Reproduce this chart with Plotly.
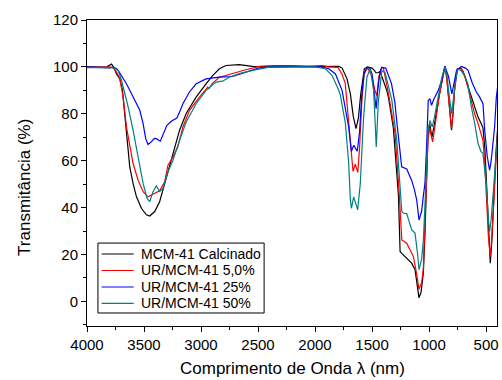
import plotly.graph_objects as go

# ---- data (wavenumber, transmittance %) ----
names = ["MCM-41 Calcinado", "UR/MCM-41 5,0%", "UR/MCM-41 25%", "UR/MCM-41 50%"]
colors = ["#000000", "#FF0000", "#0000FF", "#008080"]

w_black = [4000, 3900, 3830, 3785, 3765, 3741, 3712, 3689, 3668, 3648, 3625, 3596, 3566, 3523, 3479, 3450,
           3406, 3363, 3319, 3276, 3232, 3188, 3130, 3043, 2956, 2898, 2839, 2781, 2665, 2548, 2400, 2200,
           2000, 1880, 1790, 1763, 1750, 1720, 1690, 1665, 1641, 1620, 1600, 1580, 1568, 1540, 1500, 1480,
           1466, 1450, 1430, 1415, 1371, 1356, 1313, 1268, 1254, 1240, 1196, 1152, 1123, 1088, 1070, 1050,
           1035, 1021, 1010, 995, 975, 955, 934, 910, 890, 861, 845, 832, 815, 803, 790, 774, 751, 720, 701,
           660, 629, 600, 570, 540, 527, 510, 498, 480, 463, 450, 431, 415, 400]
t_black = [100.0, 100.1, 99.9, 101.2, 99.8, 97.0, 94.9, 90.0, 78.6, 67.3, 57.4, 50.3, 44.6, 39.7, 36.9, 36.4,
           38.3, 42.5, 50.3, 57.4, 65.9, 73.0, 80.1, 87.1, 92.8, 96.3, 99.2, 100.6, 101.0, 100.2, 100.0, 100.1,
           100.3, 100.1, 100.2, 99.5, 98.0, 95.0, 88.5, 79.0, 73.7, 78.0, 88.0, 96.0, 99.2, 100.0, 99.5, 98.5,
           97.5, 97.5, 98.0, 96.0, 90.0, 87.0, 74.0, 45.0, 21.3, 20.5, 18.5, 16.3, 13.5, 1.5, 4.0, 12.0,
           30.0, 55.0, 70.0, 76.0, 70.0, 75.0, 81.5, 88.0, 93.0, 100.2, 96.0, 89.0, 78.0, 73.0, 80.0, 92.0,
           99.2, 99.5, 98.0, 92.0, 87.0, 83.0, 78.6, 75.5, 74.0, 65.0, 53.0, 30.0, 16.3, 25.0, 46.0, 62.0, 73.0]

w_red = [4000, 3900, 3800, 3770, 3741, 3712, 3683, 3654, 3625, 3596, 3552, 3508, 3465, 3421, 3363, 3319,
         3290, 3246, 3203, 3159, 3101, 3014, 2956, 2941, 2930, 2900, 2839, 2723, 2607, 2490, 2374, 2200,
         2050, 1937, 1880, 1800, 1764, 1735, 1705, 1676, 1667, 1647, 1625, 1610, 1590, 1570, 1540, 1500,
         1475, 1458, 1440, 1415, 1400, 1356, 1298, 1263, 1245, 1239, 1196, 1137, 1110, 1088, 1065, 1050,
         1035, 1021, 1010, 995, 969, 950, 934, 910, 890, 861, 845, 832, 815, 803, 790, 774, 751, 720, 687,
         660, 629, 600, 570, 540, 527, 510, 498, 480, 463, 450, 431, 415, 400]
t_red = [99.8, 100.0, 100.0, 99.6, 97.8, 94.9, 87.1, 74.4, 65.9, 58.8, 51.7, 46.8, 44.6, 45.8, 47.2, 51.0,
         58.1, 61.6, 65.9, 74.4, 81.5, 87.1, 90.5, 91.4, 90.8, 93.0, 95.6, 97.3, 98.8, 100.2, 100.6, 100.5,
         100.3, 100.6, 100.0, 99.8, 97.0, 93.0, 77.2, 63.1, 55.5, 58.5, 55.0, 65.0, 85.0, 97.0, 99.6, 96.0,
         90.0, 87.8, 96.0, 99.8, 99.5, 88.6, 71.6, 47.0, 28.0, 26.2, 24.8, 19.1, 12.0, 5.2, 8.0, 14.0,
         35.0, 55.0, 68.0, 74.0, 68.0, 74.0, 80.0, 88.0, 93.0, 100.0, 95.0, 88.0, 78.0, 73.7, 80.0, 92.0,
         99.0, 99.2, 96.5, 91.0, 85.7, 80.0, 75.8, 70.0, 68.7, 58.0, 46.0, 28.0, 19.1, 27.0, 43.2, 60.0, 71.0]

w_blue = [4000, 3900, 3800, 3770, 3740, 3727, 3700, 3654, 3625, 3596, 3566, 3537, 3508, 3485, 3465, 3436,
          3410, 3392, 3357, 3328, 3299, 3261, 3212, 3188, 3159, 3101, 3043, 2956, 2839, 2723, 2607, 2490,
          2316, 2100, 1950, 1879, 1821, 1763, 1735, 1705, 1681, 1660, 1630, 1610, 1590, 1570, 1545, 1520,
          1500, 1480, 1464, 1450, 1430, 1415, 1380, 1330, 1300, 1284, 1260, 1240, 1196, 1153, 1130, 1108,
          1088, 1065, 1050, 1036, 1020, 1012, 1007, 992, 978, 960, 919, 890, 861, 830, 817, 800, 785, 770,
          759, 716, 680, 658, 620, 585, 556, 527, 512, 490, 469, 455, 439, 425, 410, 400]
t_blue = [100.0, 99.8, 99.6, 99.9, 99.2, 98.5, 96.5, 92.8, 90.0, 87.1, 84.3, 81.5, 75.8, 69.4, 66.9, 68.0,
          69.5, 69.4, 68.3, 71.6, 75.1, 76.8, 78.2, 80.8, 84.3, 89.3, 92.8, 94.9, 95.6, 95.9, 97.8, 99.6,
          100.2, 100.0, 100.0, 99.2, 97.0, 90.0, 83.0, 74.4, 64.0, 66.6, 64.0, 72.0, 88.0, 97.0, 99.8, 99.5,
          97.0, 90.0, 82.2, 90.0, 98.0, 99.8, 99.5, 93.0, 85.0, 77.2, 65.0, 57.4, 56.5, 51.7, 48.0, 43.2,
          34.7, 38.5, 45.0, 50.3, 68.0, 78.6, 85.7, 86.4, 83.6, 86.0, 90.0, 94.2, 100.3, 96.0, 93.0, 88.5, 92.0, 97.0,
          98.5, 100.2, 99.5, 98.5, 93.0, 89.3, 87.1, 84.3, 73.0, 62.0, 56.0, 60.0, 67.3, 74.4, 87.0, 91.0]

w_teal = [4000, 3900, 3800, 3760, 3727, 3697, 3668, 3639, 3596, 3552, 3508, 3473, 3450, 3421, 3392, 3363,
          3334, 3290, 3246, 3188, 3130, 3043, 2956, 2868, 2811, 2752, 2665, 2548, 2403, 2200, 2000, 1908,
          1850, 1792, 1778, 1734, 1705, 1690, 1681, 1661, 1626, 1603, 1574, 1545, 1516, 1486, 1463, 1445,
          1414, 1385, 1326, 1283, 1254, 1239, 1225, 1196, 1152, 1123, 1100, 1088, 1065, 1050, 1035, 1021,
          1010, 992, 972, 955, 934, 910, 890, 861, 845, 832, 815, 803, 790, 774, 751, 720, 687, 660, 629,
          600, 570, 545, 527, 510, 498, 480, 469, 455, 431, 415, 400]
t_teal = [99.7, 99.9, 99.8, 99.5, 98.5, 94.2, 88.6, 82.9, 73.0, 61.6, 50.3, 43.9, 42.5, 46.8, 49.2, 46.8,
          48.2, 55.3, 60.2, 68.7, 76.5, 84.3, 90.0, 93.5, 93.9, 95.6, 97.1, 98.5, 99.9, 100.0, 100.0, 99.2,
          96.3, 90.0, 88.0, 76.0, 59.0, 43.0, 39.7, 44.6, 39.0, 50.3, 78.6, 95.6, 99.2, 90.0, 65.9, 85.0,
          98.5, 97.5, 85.7, 68.7, 47.5, 38.3, 37.6, 37.5, 30.5, 29.1, 20.0, 13.5, 18.0, 26.0, 42.0, 60.0,
          72.0, 77.2, 74.4, 78.0, 84.0, 90.0, 95.0, 100.0, 97.0, 91.4, 84.0, 80.0, 85.0, 91.4, 99.0, 98.5,
          96.0, 93.0, 82.9, 76.0, 67.3, 64.0, 63.1, 55.0, 50.0, 35.0, 29.8, 35.0, 49.0, 62.0, 70.0]

series_w = [w_black, w_red, w_blue, w_teal]
series_t = [t_black, t_red, t_blue, t_teal]

x_ticks = [4000, 3500, 3000, 2500, 2000, 1500, 1000, 500]
y_ticks = [0, 20, 40, 60, 80, 100, 120]

FONT = "Liberation Sans, Arial, sans-serif"

fig = go.Figure()
for name, col, wv, tv in zip(names, colors, series_w, series_t):
    fig.add_trace(go.Scatter(x=wv, y=tv, mode="lines", name=name, showlegend=False,
                             line=dict(color=col, width=1.2)))

# ---- manual legend (paper coordinates) ----
shapes = [dict(type="rect", xref="paper", yref="paper", x0=0.0267, x1=0.432, y0=0.0425, y1=0.271,
               line=dict(color="black", width=1), fillcolor="white", layer="above")]
annotations = []
leg_y = [0.2353, 0.1814, 0.1275, 0.0742]
for name, col, yy in zip(names, colors, leg_y):
    shapes.append(dict(type="line", xref="paper", yref="paper", x0=0.0356, x1=0.114, y0=yy, y1=yy,
                       line=dict(color=col, width=1.2), layer="above"))
    annotations.append(dict(text=name, xref="paper", yref="paper", x=0.1262, y=yy,
                            xanchor="left", yanchor="middle", showarrow=False,
                            font=dict(size=14, family=FONT, color="black")))

annotations += [
    dict(text="Comprimento de Onda λ (nm)", xref="paper", yref="paper",
         x=0.5, y=-0.138, xanchor="center", yanchor="middle", showarrow=False,
         font=dict(size=17, family=FONT)),
    dict(text="Transmitância (%)", xref="paper", yref="paper", textangle=-90,
         x=-0.154, y=0.454, xanchor="center", yanchor="middle", showarrow=False,
         font=dict(size=17, family=FONT)),
]

fig.update_layout(
    width=502, height=380,
    margin=dict(l=87, r=3, t=20, b=54),
    paper_bgcolor="white", plot_bgcolor="white",
    font=dict(family=FONT, color="black", size=15),
    showlegend=False,
    shapes=shapes,
    annotations=annotations,
)

fig.update_xaxes(range=[4000, 404], tickvals=x_ticks, ticktext=[str(v) for v in x_ticks],
                 ticks="outside", ticklen=5, tickwidth=1, tickcolor="black",
                 minor=dict(dtick=250, ticks="outside", ticklen=3, tickcolor="black", tick0=0),
                 showline=True, linecolor="black", linewidth=1, mirror=True,
                 showgrid=False, zeroline=False, tickfont=dict(size=15))
fig.update_yaxes(range=[-10.5, 120], tickvals=y_ticks,
                 ticks="outside", ticklen=5, tickwidth=1, tickcolor="black",
                 minor=dict(dtick=10, ticks="outside", ticklen=3, tickcolor="black", tick0=0),
                 showline=True, linecolor="black", linewidth=1, mirror=True,
                 showgrid=False, zeroline=False, tickfont=dict(size=15))

fig.write_html("out.html")
